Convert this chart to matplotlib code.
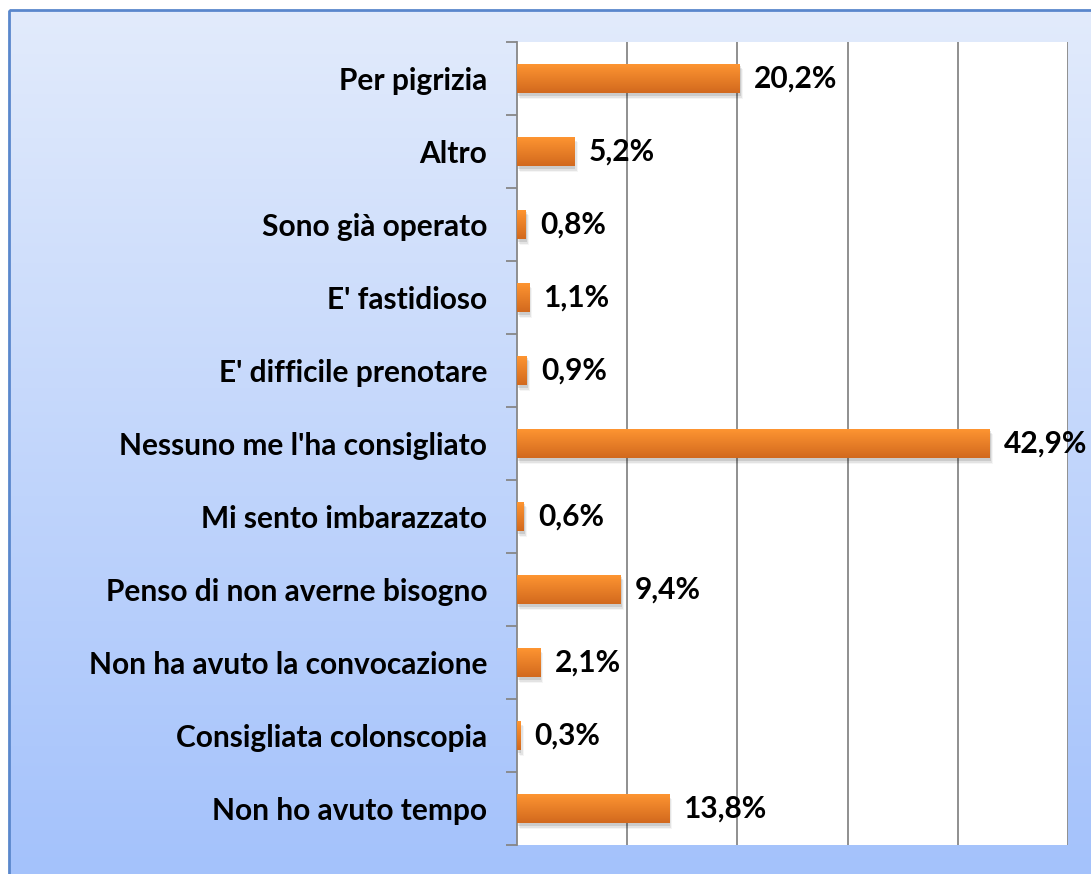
import matplotlib.pyplot as plt
import numpy as np
from matplotlib.patches import Rectangle

categories = [
    "Per pigrizia",
    "Altro",
    "Sono già operato",
    "E' fastidioso",
    "E' difficile prenotare",
    "Nessuno me l'ha consigliato",
    "Mi sento imbarazzato",
    "Penso di non averne bisogno",
    "Non ha avuto la convocazione",
    "Consigliata colonscopia",
    "Non ho avuto tempo",
]
values = [20.2, 5.2, 0.8, 1.1, 0.9, 42.9, 0.6, 9.4, 2.1, 0.3, 13.8]
labels = ["20,2%", "5,2%", "0,8%", "1,1%", "0,9%", "42,9%",
          "0,6%", "9,4%", "2,1%", "0,3%", "13,8%"]

plt.rcParams["font.family"] = ["Lato", "DejaVu Sans"]

fig = plt.figure(figsize=(10.91, 8.74), dpi=100)

# background: gradient panel with blue border
bg = fig.add_axes([0, 0, 1, 1], zorder=0)
bg.set_xlim(0, 1091)
bg.set_ylim(874, 0)
bg.axis("off")
top = np.array([226, 235, 251]) / 255
bottom = np.array([164, 194, 251]) / 255
t = np.linspace(0, 1, 256)[:, None]
grad = top + (bottom - top) * t
bg.imshow(grad[:, None, :], extent=[9, 1091, 874, 10], aspect="auto")
bg.add_patch(Rectangle((9, 10), 1100, 900, fill=False, edgecolor="#5a87cc", linewidth=2))

ax = fig.add_axes([517 / 1091, 1 - 845 / 874, (1068 - 517) / 1091, (845 - 42) / 874], zorder=1)
ax.set_facecolor("white")
n = len(categories)
ypos = np.arange(n)

bar_h = 0.41
orange_top = np.array([255, 150, 50]) / 255
orange_bot = np.array([210, 105, 30]) / 255
bar_grad = orange_top + (orange_bot - orange_top) * np.linspace(0, 1, 64)[:, None]

for y, v, lab in zip(ypos, values, labels):
    # soft shadow under the bar
    for k, a in enumerate([0.10, 0.07, 0.04]):
        ax.add_patch(Rectangle((0.1 + 0.1 * k, y - bar_h / 2 + 0.04 + 0.02 * k), v, bar_h,
                               facecolor="black", alpha=a, edgecolor="none", zorder=2))
    bars = ax.barh(y, v, height=bar_h, color="none", edgecolor="none", zorder=3)
    im = ax.imshow(bar_grad[:, None, :], extent=[0, v, y + bar_h / 2, y - bar_h / 2],
                   aspect="auto", zorder=3)
    im.set_clip_path(bars[0])
    ax.text(v + 1.3, y, lab, va="center", ha="left", fontsize=21.5,
            fontweight="bold", color="black", zorder=4)

ax.set_xlim(0, 50)
ax.set_ylim(n - 0.5, -0.5)

ax.set_xticks([10, 20, 30, 40, 50])
ax.xaxis.grid(True, color="#878787", linewidth=1.3)
ax.tick_params(axis="x", length=0, labelbottom=False)
ax.set_axisbelow(True)

ax.set_yticks(ypos)
ax.set_yticklabels(categories, fontsize=21.5, fontweight="bold")
ax.set_yticks(np.arange(-0.5, n, 1), minor=True)
ax.tick_params(axis="y", which="major", length=0, pad=21.5)
ax.tick_params(axis="y", which="minor", length=8, width=1.3, color="#878787")

for s in ["top", "bottom", "right"]:
    ax.spines[s].set_visible(False)
ax.spines["left"].set_color("#878787")
ax.spines["left"].set_linewidth(1.3)

fig.savefig("out.png", dpi=100)
